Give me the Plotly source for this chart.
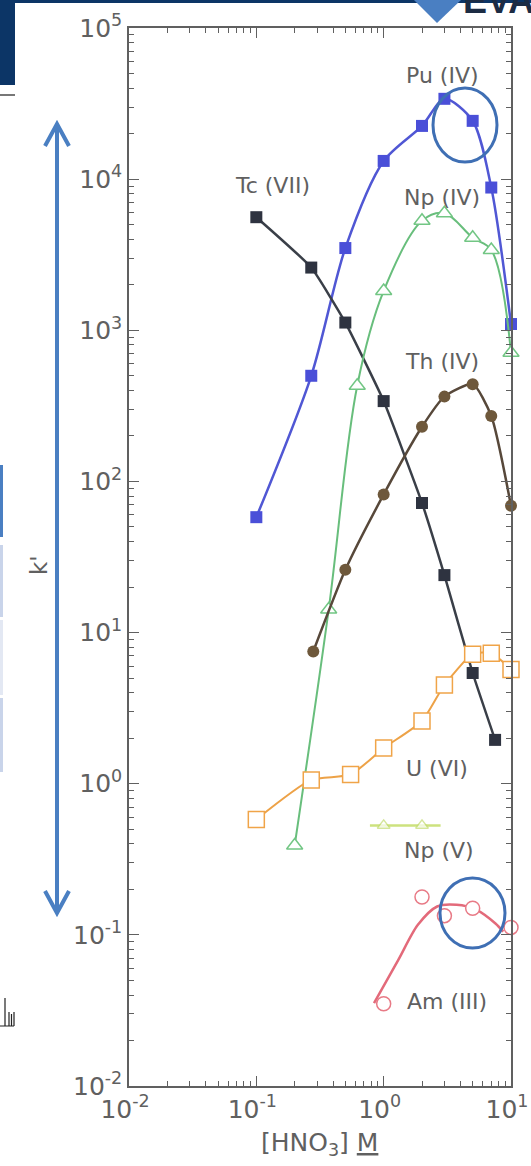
import plotly.graph_objects as go

# ---------------- data ----------------
pu_x = [0.1, 0.27, 0.5, 1, 2, 3, 5, 7, 10]
pu_y = [58, 500, 3500, 13200, 22500, 34000, 24300, 8800, 1100]

tc_x = [0.1, 0.27, 0.5, 1, 2, 3, 5, 7.5]
tc_y = [5600, 2600, 1125, 340, 72, 24, 5.4, 1.95]

np4_x = [0.2, 0.37, 0.62, 1, 2, 3, 5, 7, 10]
np4_y = [0.39, 14.2, 430, 1820, 5300, 5950, 4100, 3400, 710]

th_x = [0.28, 0.5, 1, 2, 3, 5, 7, 10]
th_y = [7.5, 26, 82, 230, 364, 440, 271, 69]

u_x = [0.1, 0.27, 0.55, 1, 2, 3, 5, 7, 10]
u_y = [0.58, 1.06, 1.15, 1.72, 2.6, 4.5, 7.2, 7.3, 5.7]

np5_x = [0.78, 1, 2, 2.8]
np5_y = [0.53, 0.53, 0.53, 0.53]

am_x = [1, 2, 3, 5, 10]
am_y = [0.035, 0.178, 0.134, 0.150, 0.112]
am_fit_x = [0.84, 1.3, 1.85, 2.63, 3.74, 5.31, 7.55, 8.7]
am_fit_y = [0.0353, 0.068, 0.116, 0.154, 0.158, 0.147, 0.119, 0.105]

x_tickvals = [0.01, 0.1, 1, 10]
x_ticktext = ["10<sup>-2</sup>", "10<sup>-1</sup>", "10<sup>0</sup>", "10<sup>1</sup>"]
y_tickvals = [0.01, 0.1, 1, 10, 100, 1000, 10000, 100000]
y_ticktext = ["10<sup>-2</sup>", "10<sup>-1</sup>", "10<sup>0</sup>", "10<sup>1</sup>",
              "10<sup>2</sup>", "10<sup>3</sup>", "10<sup>4</sup>", "10<sup>5</sup>"]
minor_mult = [2, 3, 4, 5, 6, 7, 8, 9]

x_title = "[HNO<sub>3</sub>] <span style='text-decoration:underline'>M</span>"
y_title = "k'"

labels = ["Pu (IV)", "Tc (VII)", "Np (IV)", "Th (IV)", "U (VI)", "Np (V)", "Am (III)"]

# ---------------- layout helpers ----------------
W, H = 531, 1166
L, R, T, B = 129, 511, 28, 1086


def px(x):
    return (x - L) / (R - L)


def py(y):
    return (B - y) / (B - T)


GRAY = "#606060"
FONT = "DejaVu Sans, Arial, sans-serif"

fig = go.Figure()

fig.add_trace(go.Scatter(x=pu_x, y=pu_y, mode="lines+markers", cliponaxis=False,
                         line=dict(color="#5057d4", width=2.5, shape="spline", smoothing=0.8),
                         marker=dict(symbol="square", size=12, color="#4a4fd8")))
fig.add_trace(go.Scatter(x=tc_x, y=tc_y, mode="lines+markers", cliponaxis=False,
                         line=dict(color="#3a3f48", width=2.5, shape="spline", smoothing=0.4),
                         marker=dict(symbol="square", size=12, color="#2e3340")))
fig.add_trace(go.Scatter(x=np4_x, y=np4_y, mode="lines+markers", cliponaxis=False,
                         line=dict(color="#68be7c", width=2, shape="spline", smoothing=1.0),
                         marker=dict(symbol="triangle-up", size=14, color="white",
                                     line=dict(color="#72c684", width=1.5))))
fig.add_trace(go.Scatter(x=th_x, y=th_y, mode="lines+markers", cliponaxis=False,
                         line=dict(color="#57483a", width=2.5, shape="spline", smoothing=0.6),
                         marker=dict(symbol="circle", size=12, color="#6e583b")))
fig.add_trace(go.Scatter(x=u_x, y=u_y, mode="lines+markers", cliponaxis=False,
                         line=dict(color="#eda247", width=2, shape="spline", smoothing=0.6),
                         marker=dict(symbol="square", size=16, color="white",
                                     line=dict(color="#f0a448", width=1.5))))
fig.add_trace(go.Scatter(x=np5_x, y=np5_y, mode="lines+markers", cliponaxis=False,
                         line=dict(color="#cde27e", width=2.5),
                         marker=dict(symbol="triangle-up", size=[0, 11, 11, 0], color="white",
                                     line=dict(color="#c3dc70", width=1.5))))
fig.add_trace(go.Scatter(x=am_fit_x, y=am_fit_y, mode="lines", cliponaxis=False,
                         line=dict(color="#e36a7a", width=2.5, shape="spline", smoothing=0.8)))
fig.add_trace(go.Scatter(x=am_x, y=am_y, mode="markers", cliponaxis=False,
                         marker=dict(symbol="circle", size=14, color="white",
                                     line=dict(color="#e87a86", width=1.5))))

axis_common = dict(
    type="log", showline=True, linecolor=GRAY, linewidth=1.5, mirror="allticks",
    ticks="inside", ticklen=10, tickwidth=1.2, tickcolor=GRAY,
    tickmode="array", showgrid=False, zeroline=False, automargin=False,
    ticklabeloverflow="allow",
    tickfont=dict(family=FONT, size=25, color=GRAY),
)
x_minor = [m * v for v in x_tickvals[:-1] for m in minor_mult]
y_minor = [m * v for v in y_tickvals[:-1] for m in minor_mult]
fig.update_xaxes(range=[-2, 1], tickvals=x_tickvals, ticktext=x_ticktext, ticklabelshift=-4,
                 minor=dict(tickmode="array", tickvals=x_minor, ticks="inside", ticklen=5,
                            tickwidth=1, tickcolor=GRAY, showgrid=False),
                 **axis_common)
fig.update_yaxes(range=[-2, 5], tickvals=y_tickvals, ticktext=y_ticktext,
                 minor=dict(tickmode="array", tickvals=y_minor, ticks="inside", ticklen=5,
                            tickwidth=1, tickcolor=GRAY, showgrid=False),
                 **axis_common)

# series labels
label_pos = [(442, 76), (272, 186), (442, 198), (442, 361), (437, 768), (439, 850), (447, 1001)]
annotations = []
for txt, (lx, ly) in zip(labels, label_pos):
    annotations.append(dict(text=txt, x=px(lx), y=py(ly), xref="paper", yref="paper",
                            showarrow=False, xanchor="center", yanchor="middle",
                            font=dict(family=FONT, size=22, color=GRAY)))
annotations.append(dict(text=x_title, x=px(319), y=py(1144), xref="paper", yref="paper",
                        showarrow=False, xanchor="center", yanchor="middle",
                        font=dict(family=FONT, size=25, color=GRAY)))
annotations.append(dict(text=y_title, x=px(39), y=py(565), xref="paper", yref="paper",
                        showarrow=False, textangle=-90, xanchor="center", yanchor="middle",
                        font=dict(family=FONT, size=23, color=GRAY)))
# cropped slide title at the top
annotations.append(dict(text="<b>EVA</b>", x=px(461), y=py(23), xref="paper", yref="paper",
                        showarrow=False, xanchor="left", yanchor="bottom",
                        font=dict(family="Liberation Sans, Arial, sans-serif", size=36, color="#1c2c44")))

BLUE = "#4a7fc2"
shapes = []
# highlight ellipses
shapes.append(dict(type="circle", xref="paper", yref="paper",
                   x0=px(433), x1=px(497), y0=py(88), y1=py(162),
                   line=dict(color="#3f6fb4", width=3)))
shapes.append(dict(type="circle", xref="paper", yref="paper",
                   x0=px(440), x1=px(505), y0=py(878), y1=py(948),
                   line=dict(color="#3f6fb4", width=3)))


def path(points_list):
    s = ""
    for pts in points_list:
        s += "M " + " L ".join(f"{px(a):.5f},{py(b):.5f}" for a, b in pts) + " "
    return s.strip()


# double-headed arrow
shapes.append(dict(type="path", xref="paper", yref="paper",
                   path=path([[(57, 124), (57, 913)],
                              [(45, 146), (57, 124), (69, 146)],
                              [(45, 891), (57, 913), (69, 891)]]),
                   line=dict(color=BLUE, width=4)))
# slide decorations
shapes.append(dict(type="rect", xref="paper", yref="paper", x0=px(0), x1=px(531), y0=py(3), y1=py(0),
                   fillcolor="#0c3566", line=dict(width=0), layer="above"))
shapes.append(dict(type="rect", xref="paper", yref="paper", x0=px(0), x1=px(15), y0=py(85), y1=py(0),
                   fillcolor="#0c3566", line=dict(width=0)))
shapes.append(dict(type="line", xref="paper", yref="paper", x0=px(0), x1=px(15), y0=py(95), y1=py(95),
                   line=dict(color="#777777", width=2)))
shapes.append(dict(type="path", xref="paper", yref="paper",
                   path=path([[(414, 0), (461, 0), (437, 23), (414, 0)]]) + " Z",
                   fillcolor=BLUE, line=dict(width=0)))
shapes.append(dict(type="rect", xref="paper", yref="paper", x0=px(0), x1=px(3), y0=py(537), y1=py(465),
                   fillcolor=BLUE, line=dict(width=0)))
for (a, b, c) in [(545, 617, "#c9d4ea"), (620, 695, "#e3e8f3"), (698, 772, "#c9d4ea")]:
    shapes.append(dict(type="rect", xref="paper", yref="paper", x0=px(0), x1=px(3), y0=py(b), y1=py(a),
                       fillcolor=c, line=dict(width=0)))
shapes.append(dict(type="path", xref="paper", yref="paper",
                   path=path([[(0, 1026), (14, 1026)], [(5, 998), (5, 1026)], [(9, 1012), (9, 1026)],
                              [(11.5, 1014), (11.5, 1026)], [(14, 1012), (14, 1026)]]),
                   line=dict(color="#222222", width=1.2)))

fig.update_layout(
    width=W, height=H,
    margin=dict(l=L, r=W - R, t=T, b=H - B, autoexpand=False),
    paper_bgcolor="white", plot_bgcolor="white",
    showlegend=False,
    annotations=annotations, shapes=shapes,
)

fig.write_html("out.html")
